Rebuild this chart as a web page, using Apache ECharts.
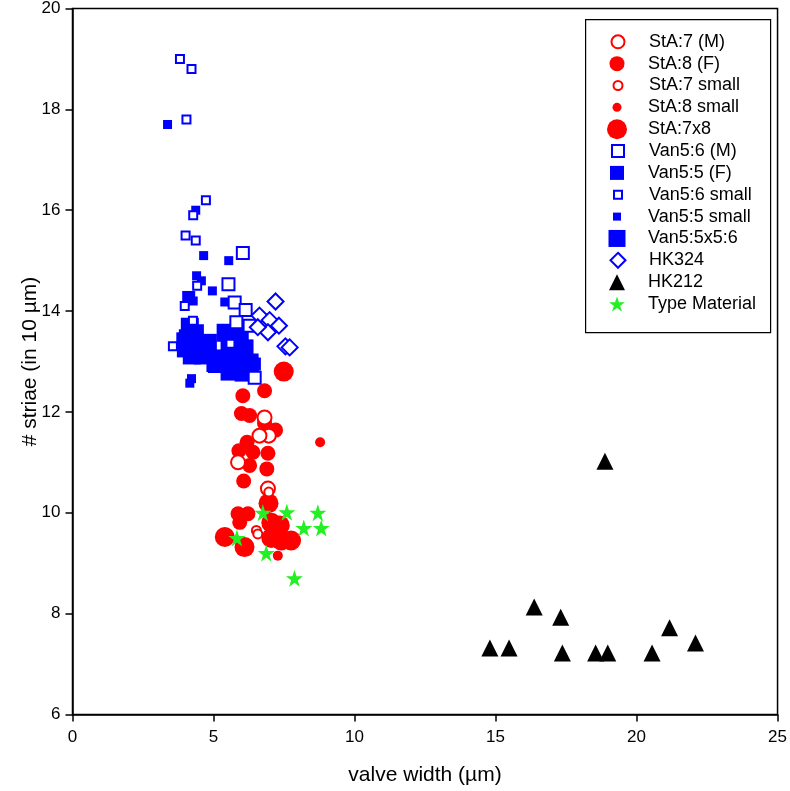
<!DOCTYPE html>
<html>
<head>
<meta charset="utf-8">
<script src="https://cdn.jsdelivr.net/npm/echarts@6/dist/echarts.min.js"></script>
<style>html,body{margin:0;padding:0;background:#fff;}#c{width:790px;height:791px;}</style>
</head>
<body>
<div id="c"></div>
<script>
// ---- data ----
const xTicks = [0, 5, 10, 15, 20, 25];
const yTicks = [6, 8, 10, 12, 14, 16, 18, 20];

const sta7M = [[6.81,11.89],[6.96,11.53],[6.63,11.53],[5.87,11.00],[6.93,10.48]];
const sta8F = [[6.04,12.32],[6.81,12.42],[5.99,11.97],[6.28,11.93],[6.81,11.77],[7.20,11.64],[6.19,11.40],[5.90,11.23],[6.40,11.20],[6.93,11.18],[6.28,10.94],[6.89,10.87],[6.07,10.63],[5.87,9.98],[6.22,9.98],[5.93,9.81]];
const sta7Small = [[6.96,10.41],[6.52,9.65],[6.57,9.58]];
const sta8Small = [[8.78,11.40],[7.28,9.15]];
const sta7x8 = [[7.49,12.80],[6.95,10.19],[5.40,9.52],[6.10,9.32],[7.05,9.80],[7.35,9.75],[7.05,9.50],[7.40,9.45],[7.75,9.45]];

const van6M = [[6.04,15.15],[5.53,14.53],[5.75,14.17],[6.14,14.02],[5.81,13.78],[6.28,13.71],[6.46,12.68]];
const van5F = [[4.98,12.92],[4.12,14.27],[5.05,13.10],[6.45,12.95]];
const van6Small = [[3.81,19.0],[4.22,18.8],[4.04,17.8],[4.73,16.2],[4.28,15.9],[4.01,15.5],[4.37,15.4],[4.42,14.5],[3.98,14.1],[3.56,13.3],[4.27,13.81],[5.60,13.35]];
const van5Small = [[3.37,17.7],[4.37,16.0],[4.65,15.1],[5.54,15.0],[4.40,14.7],[4.57,14.6],[4.96,14.4],[4.28,14.2],[5.40,14.18],[4.22,12.66],[4.16,12.57]];
const van5x56 = [[4.16,13.69],[4.09,13.46],[4.34,13.56],[4.02,13.26],[4.44,13.32],[4.80,13.37],[4.23,13.12],[4.62,13.12],[4.00,13.40],
                 [5.43,13.57],[5.93,13.55],[5.57,13.32],[6.10,13.26],[5.29,13.06],[5.82,13.02],[6.28,12.98],[5.57,12.80],[6.07,12.78],[6.30,12.85],[5.12,12.95]];
const hk324 = [[7.20,14.19],[6.63,13.91],[6.99,13.82],[7.32,13.71],[6.93,13.58],[6.57,13.68],[7.55,13.30],[7.70,13.28]];
const hk212 = [[18.88,11.02],[16.37,8.13],[17.31,7.93],[14.80,7.32],[15.48,7.32],[17.37,7.22],[18.55,7.22],[18.98,7.22],[20.55,7.22],[21.17,7.72],[22.09,7.42]];
const typeMaterial = [[5.83,9.50],[6.75,10.0],[7.60,10.01],[8.70,10.0],[8.20,9.70],[8.82,9.70],[6.87,9.20],[7.87,8.70]];

const names = ['StA:7 (M)','StA:8 (F)','StA:7 small','StA:8 small','StA:7x8','Van5:6 (M)','Van5:5 (F)','Van5:6 small','Van5:5 small','Van5:5x5:6','HK324','HK212','Type Material'];

// ---- styles ----
const RED = '#ff0000', BLUE = '#0000ff', GREEN = '#22f022', BLACK = '#000000';
const STAR = 'path://M50,0 L61.8,35.5 L99,35.5 L69,57.5 L80.5,93 L50,71 L19.5,93 L31,57.5 L1,35.5 L38.2,35.5 Z';
const styleMap = {
  'StA:7 (M)':   {data: sta7M, symbol:'circle', size:14, item:{color:'#fff', borderColor:RED, borderWidth:2, opacity:1}},
  'StA:8 (F)':   {data: sta8F, symbol:'circle', size:15, item:{color:RED, borderWidth:0, opacity:1}},
  'StA:7 small': {data: sta7Small, symbol:'circle', size:9, item:{color:'#fff', borderColor:RED, borderWidth:2, opacity:1}},
  'StA:8 small': {data: sta8Small, symbol:'circle', size:10, item:{color:RED, borderWidth:0, opacity:1}},
  'StA:7x8':     {data: sta7x8, symbol:'circle', size:20, item:{color:RED, borderWidth:0, opacity:1}},
  'Van5:6 (M)':  {data: van6M, symbol:'rect', size:12, item:{color:'#fff', borderColor:BLUE, borderWidth:2, opacity:1}},
  'Van5:5 (F)':  {data: van5F, symbol:'rect', size:13, item:{color:BLUE, borderWidth:0, opacity:1}},
  'Van5:6 small':{data: van6Small, symbol:'rect', size:8, item:{color:'#fff', borderColor:BLUE, borderWidth:2, opacity:1}},
  'Van5:5 small':{data: van5Small, symbol:'rect', size:9, item:{color:BLUE, borderWidth:0, opacity:1}},
  'Van5:5x5:6':  {data: van5x56, symbol:'rect', size:18, item:{color:BLUE, borderWidth:0, opacity:1}},
  'HK324':       {data: hk324, symbol:'diamond', size:16, item:{color:'#fff', borderColor:BLUE, borderWidth:2, opacity:1}},
  'HK212':       {data: hk212, symbol:'triangle', size:17, item:{color:BLACK, borderWidth:0, opacity:1}},
  'Type Material':{data: typeMaterial, symbol:STAR, size:17, item:{color:GREEN, borderWidth:0, opacity:1}}
};
// drawing order (later on top)
const drawOrder = ['Van5:5x5:6','Van5:5 (F)','Van5:5 small','Van5:6 (M)','Van5:6 small','HK324',
                   'StA:7x8','StA:8 (F)','StA:8 small','StA:7 (M)','StA:7 small','HK212','Type Material'];

const series = drawOrder.map(n => ({
  name: n, type: 'scatter', data: styleMap[n].data, symbol: styleMap[n].symbol,
  symbolSize: styleMap[n].size, itemStyle: styleMap[n].item, animation: false,
  emphasis: {disabled: true}
}));

// legend: one component per entry so icon sizes can differ
const legendTop0 = 41.8, legendStep = 21.85, legendIconX = 617, legendTextX = 648;
const legendSizes = {'StA:7 (M)':13,'StA:8 (F)':15,'StA:7 small':9,'StA:8 small':9,'StA:7x8':20,
  'Van5:6 (M)':12,'Van5:5 (F)':14,'Van5:6 small':8,'Van5:5 small':8,'Van5:5x5:6':17,'HK324':15,'HK212':16,'Type Material':16};
const legends = names.map((n, i) => {
  const ih = legendSizes[n];
  const boxH = Math.max(ih, 20);
  const padLeft = legendTextX - (legendIconX + ih/2 + 5);
  return {
    show: true, orient: 'horizontal', left: legendIconX - ih/2, top: legendTop0 + i*legendStep - boxH/2,
    padding: 0, itemWidth: ih, itemHeight: ih, selectedMode: false,
    textStyle: {fontFamily: 'Liberation Sans, Arial, sans-serif', fontSize: 18, color: '#000', lineHeight: 20, padding: [0,0,0,padLeft]},
    data: [{name: n, icon: styleMap[n].symbol, itemStyle: styleMap[n].item}]
  };
});

const chart = echarts.init(document.getElementById('c'), null, {renderer: 'canvas'});
chart.setOption({
  backgroundColor: '#fff',
  animation: false,
  grid: {left: 72.5, right: 11, top: 7.5, bottom: 76.5, show: true, borderColor: '#000', borderWidth: 1.5, backgroundColor: 'transparent'},
  xAxis: {
    type: 'value', min: xTicks[0], max: xTicks[xTicks.length-1], interval: 5,
    name: 'valve width (µm)', nameLocation: 'middle', nameGap: 50, nameMoveOverlap: false,
    nameTextStyle: {fontFamily: 'Liberation Sans, Arial, sans-serif', fontSize: 21, color: '#000'},
    axisLine: {show: true, onZero: false, lineStyle: {color: '#000', width: 1.5}},
    axisTick: {show: true, inside: false, length: 7, lineStyle: {color: '#000', width: 1.5}},
    axisLabel: {margin: 14, fontFamily: 'Liberation Sans, Arial, sans-serif', fontSize: 17, color: '#000'},
    splitLine: {show: false}
  },
  yAxis: {
    type: 'value', min: yTicks[0], max: yTicks[yTicks.length-1], interval: 2,
    name: '# striae (in 10 µm)', nameLocation: 'middle', nameGap: 32, nameMoveOverlap: false,
    nameTextStyle: {fontFamily: 'Liberation Sans, Arial, sans-serif', fontSize: 21, color: '#000'},
    axisLine: {show: true, onZero: false, lineStyle: {color: '#000', width: 1.5}},
    axisTick: {show: true, inside: false, length: 7, lineStyle: {color: '#000', width: 1.5}},
    axisLabel: {margin: 12, fontFamily: 'Liberation Sans, Arial, sans-serif', fontSize: 17, color: '#000'},
    splitLine: {show: false}
  },
  legend: legends,
  graphic: [{
    type: 'rect', left: 585, top: 19, z: 1,
    shape: {width: 185, height: 313},
    style: {fill: '#fff', stroke: '#000', lineWidth: 1.2}
  }],
  series: series
});
</script>
</body>
</html>
